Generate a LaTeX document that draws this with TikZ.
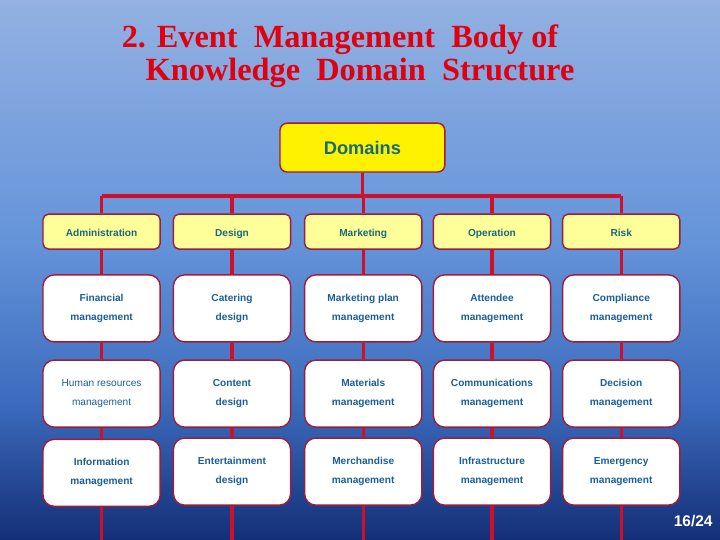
\documentclass[tikz,border=0pt]{standalone}
\usepackage{fontspec}
\setmainfont{Liberation Sans}
\newfontfamily\titlefont{Liberation Serif}
\usetikzlibrary{positioning}
\definecolor{bgTop}{HTML}{93B1E2}
\definecolor{bgMid}{HTML}{6594DA}
\definecolor{bgLow}{HTML}{3D6CBE}
\definecolor{bgBot}{HTML}{142F78}
\definecolor{titleRed}{HTML}{E0000F}
\definecolor{wireRed}{HTML}{D0102A}
\definecolor{edgeRed}{HTML}{A01C38}
\definecolor{paleYellow}{HTML}{FFFF99}
\definecolor{headTeal}{HTML}{156A7E}
\definecolor{itemBlue}{HTML}{1B5E9A}
\pgfdeclareverticalshading{slidebg}{100bp}{color(0bp)=(bgBot); color(25bp)=(bgBot);
    color(38bp)=(bgLow); color(52.8bp)=(bgMid); color(75bp)=(bgTop); color(100bp)=(bgTop)}

\begin{document}
\begin{tikzpicture}[
    wire/.style={draw=wireRed,line width=2.3pt},
    rootbox/.style={draw=edgeRed,line width=1pt,fill=yellow,rounded corners=5pt,
        minimum width=4.12cm,minimum height=1.22cm,font=\bfseries\fontsize{13}{15}\selectfont,
        text=headTeal},
    headbox/.style={draw=edgeRed,line width=1pt,fill=paleYellow,rounded corners=4pt,
        minimum width=2.93cm,minimum height=0.875cm,text height=1.6ex,text depth=0.3ex,
        font=\bfseries\fontsize{7.2}{9}\selectfont,text=headTeal},
    itembox/.style={draw=edgeRed,line width=1pt,fill=white,rounded corners=8pt,
        minimum width=2.93cm,minimum height=1.675cm,align=center,
        font=\bfseries\fontsize{7.2}{13.5}\selectfont,text=itemBlue}]
    \shade[shading=slidebg](0,0)rectangle(18,13.5);
    \useasboundingbox(0,0)rectangle(18,13.5);
    % title
    \node[font=\titlefont\bfseries\fontsize{23}{26}\selectfont,text=titleRed](title1)at(8.5,12.52)
        {2. Event\ \ Management\ \ Body of};
    \node[font=\titlefont\bfseries\fontsize{23}{26}\selectfont,text=titleRed](title2)at(9.0,11.68)
        {Knowledge\ \ Domain\ \ Structure};
    % root and domains
    \node[rootbox](dom)at(9.06,9.81){Domains};
    \coordinate(bus)at(9.06,8.6);
    \node[headbox](adm)at(2.54,7.71){Administration};
    \node[headbox](des)at(5.8,7.71){Design};
    \node[headbox](mkt)at(9.08,7.71){Marketing};
    \node[headbox](ops)at(12.3,7.71){Operation};
    \node[headbox](rsk)at(15.53,7.71){Risk};
    % second row
    \node[itembox](adm1)at(2.54,5.79){Financial\\management};
    \node[itembox](des1)at(5.8,5.79){Catering\\design};
    \node[itembox](mkt1)at(9.08,5.79){Marketing plan\\management};
    \node[itembox](ops1)at(12.3,5.79){Attendee\\management};
    \node[itembox](rsk1)at(15.53,5.79){Compliance\\management};
    % third row
    \node[itembox,font=\mdseries\fontsize{7.2}{13}\selectfont](adm2)at(2.54,3.66)
        {Human resources\\management};
    \node[itembox](des2)at(5.8,3.66){Content\\design};
    \node[itembox](mkt2)at(9.08,3.66){Materials\\management};
    \node[itembox](ops2)at(12.3,3.66){Communications\\management};
    \node[itembox](rsk2)at(15.53,3.66){Decision\\management};
    % fourth row
    \node[itembox](adm3)at(2.54,1.68){Information\\management};
    \node[itembox](des3)at(5.8,1.71){Entertainment\\design};
    \node[itembox](mkt3)at(9.08,1.71){Merchandise\\management};
    \node[itembox](ops3)at(12.3,1.71){Infrastructure\\management};
    \node[itembox](rsk3)at(15.53,1.71){Emergency\\management};
    % connectors
    \draw[wire](dom)--(bus);
    \draw[wire](adm|-bus)--(rsk|-bus);
    \draw[wire](adm|-bus)--(adm)--(adm1)--(adm2)--(adm3)--(adm3|-0,0);
    \draw[wire](des|-bus)--(des)--(des1)--(des2)--(des3)--(des3|-0,0);
    \draw[wire](mkt|-bus)--(mkt)--(mkt1)--(mkt2)--(mkt3)--(mkt3|-0,0);
    \draw[wire](ops|-bus)--(ops)--(ops1)--(ops2)--(ops3)--(ops3|-0,0);
    \draw[wire](rsk|-bus)--(rsk)--(rsk1)--(rsk2)--(rsk3)--(rsk3|-0,0);
    \node[font=\bfseries\fontsize{11}{13}\selectfont,text=white](page)at(17.33,0.48){16/24};
\end{tikzpicture}
\end{document}
